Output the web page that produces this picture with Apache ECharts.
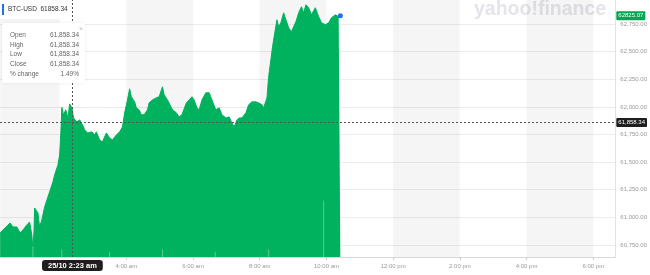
<!DOCTYPE html>
<html><head><meta charset="utf-8">
<script src="https://cdn.jsdelivr.net/npm/echarts@6/dist/echarts.min.js"></script>
<style>html,body{margin:0;padding:0;background:#fff}#c{width:650px;height:275px}</style>
</head><body><div id="c"></div>
<script>
const symbolName = 'BTC-USD';
const headerPrice = '61858.34';
const times = ['00:13','00:18','00:22','00:27','00:31','00:36','00:43','00:49','00:54','01:01','01:06','01:10','01:12','01:14','01:15','01:21','01:24','01:28','01:33','01:39','01:42','01:48','01:51','01:57','02:00','02:02','02:04','02:07','02:11','02:15','02:18','02:22','02:25','02:31','02:36','02:43','02:45','02:50','02:58','03:03','03:06','03:12','03:17','03:24','03:30','03:35','03:42','03:48','03:53','03:57','04:02','04:06','04:09','04:15','04:18','04:23','04:27','04:32','04:38','04:41','04:47','04:54','04:59','05:05','05:08','05:14','05:17','05:23','05:30','05:35','05:40','05:48','05:53','05:58','06:02','06:07','06:11','06:16','06:23','06:29','06:34','06:41','06:47','06:52','06:59','07:05','07:10','07:14','07:19','07:23','07:28','07:35','07:40','07:46','07:53','07:58','08:04','08:07','08:13','08:16','08:20','08:23','08:27','08:31','08:34','08:38','08:43','08:47','08:52','08:57','09:05','09:10','09:15','09:19','09:23','09:28','09:33','09:40','09:46','09:51','09:58','10:04','10:09','10:16','10:22','10:25'];
const prices = [60859,60886,60904,60931,60949,60913,60913,60859,60886,60931,60958,60841,60705,60886,61085,61040,60913,60976,61094,61185,61230,61321,61384,61475,61565,61746,61996,61928,61973,61900,62027,61991,61900,61864,61882,61819,61792,61764,61774,61746,61774,61701,61683,61764,61719,61701,61746,61774,61819,61946,62063,62163,62091,62045,61991,61973,61928,61928,61973,62036,62063,62082,62091,62181,62109,62063,62045,61973,61946,61909,61928,62036,62063,62091,62063,61991,61973,62063,62127,62127,62063,61973,61991,61928,61900,61909,61855,61819,61882,61900,61900,61946,62018,62045,62045,62036,62018,61991,62082,62272,62426,62543,62670,62788,62725,62761,62851,62788,62716,62679,62770,62851,62906,62851,62924,62897,62833,62897,62815,62761,62743,62761,62806,62833,62815,62825.07];
const volTimes = ['01:12','02:04','03:30','05:05','06:40','08:16','09:55'];
const volValues = [4, 3, 2, 3, 2, 3, 22];
const yTicks = [60750,61000,61250,61500,61750,62000,62250,62500,62750];
const xTickTimes = ['04:00','06:00','08:00','10:00','12:00','14:00','16:00','18:00'];
const xTickLabels = ['4:00 am','6:00 am','8:00 am','10:00 am','12:00 pm','2:00 pm','4:00 pm','6:00 pm'];
const bandStarts = ['00:13','04:00','08:00','12:00','16:00'];
const bandEnds = ['02:00','06:00','10:00','14:00','18:00'];
const crossTime = '02:23';
const crossLabel = '25/10 2:23 am';
const crossPrice = 61858.34;
const currentPrice = 62825.07;
const infoLabels = ['Open','High','Low','Close','% change'];
const infoValues = ['61,858.34','61,858.34','61,858.34','61,858.34','1.49%'];

const toMin = s => { const [h, m] = s.split(':').map(Number); return h * 60 + m; };
const fmt = v => v.toLocaleString('en-US', {minimumFractionDigits: 2, maximumFractionDigits: 2});
const xMin = 12.75, xMax = 1119.6;
const FONT = 'Liberation Sans';

const chart = echarts.init(document.getElementById('c'), null, {renderer: 'canvas'});
const lineData = times.map((t, i) => [toMin(t), prices[i]]);
const xTickVals = xTickTimes.map(toMin);
const lastPt = lineData[lineData.length - 1];

const graphics = [
  {type: 'rect', left: 0, top: 0, shape: {width: 66, height: 19}, style: {fill: '#fff'}, z: 50},
  {type: 'rect', left: 2, top: 4, shape: {width: 2, height: 11}, style: {fill: '#1a73e8'}, z: 51},
  {type: 'text', left: 8, top: 6, style: {text: symbolName + '  ' + headerPrice, fill: '#333', font: '6.5px ' + FONT}, z: 51},
  {type: 'rect', left: 2, top: 23, shape: {width: 83, height: 60}, style: {fill: '#fff', shadowBlur: 3, shadowColor: 'rgba(0,0,0,0.08)'}, z: 50},
  {type: 'text', left: 79, top: 26, style: {text: '×', fill: '#bbb', font: '7px ' + FONT}, z: 51},
  {type: 'text', left: 474, top: 0, style: {text: 'yahoo!finance', fill: '#e4e4ea', font: 'bold 19.5px ' + FONT}, z: 1}
];
infoLabels.forEach((l, i) => {
  graphics.push({type: 'text', left: 10, top: 32 + i * 9.6, style: {text: l, fill: '#666', font: '6.5px ' + FONT}, z: 51});
  graphics.push({type: 'text', right: 650 - 79, top: 32 + i * 9.6, style: {text: infoValues[i], fill: '#666', font: '6.5px ' + FONT, align: 'right'}, z: 51});
});

chart.setOption({
  animation: false,
  backgroundColor: '#fff',
  textStyle: {fontFamily: FONT},
  grid: {left: 0, right: 32, top: 0, bottom: 18, containLabel: false},
  xAxis: {
    type: 'value', min: xMin, max: xMax,
    axisLine: {show: true, lineStyle: {color: '#d8d8d8'}},
    axisTick: {show: true, customValues: xTickVals, length: 3, lineStyle: {color: '#ccc'}},
    axisLabel: {customValues: xTickVals, color: '#999', fontSize: 6, margin: 6,
      formatter: v => xTickLabels[xTickVals.indexOf(v)] || ''},
    splitLine: {show: false}
  },
  yAxis: [{
    type: 'value', position: 'right', min: 60641, max: 62967,
    axisLine: {show: true, lineStyle: {color: '#e2e2e2'}},
    axisTick: {show: false, customValues: yTicks},
    axisLabel: {customValues: yTicks, color: '#999', fontSize: 6, margin: 5, formatter: v => fmt(v)},
    splitLine: {show: true, lineStyle: {color: '#ececec', width: 1}}
  }, {
    type: 'value', min: 0, max: 100, show: false
  }],
  graphic: graphics,
  series: [
    {
      type: 'line', data: [], z: 1, silent: true,
      markArea: {silent: true, itemStyle: {color: 'rgba(0,0,0,0.04)'},
        data: bandStarts.map((s, i) => [{xAxis: Math.max(toMin(s), xMin)}, {xAxis: toMin(bandEnds[i])}])}
    },
    {
      type: 'line', data: lineData, showSymbol: false, z: 3,
      lineStyle: {color: '#00b15e', width: 1},
      areaStyle: {color: '#00b15e', opacity: 1, origin: 'start'},
      markLine: {
        symbol: ['none', 'none'], silent: true, animation: false,
        data: [
          {yAxis: crossPrice, lineStyle: {type: [2, 2], color: '#555', width: 1},
            label: {show: true, position: 'end', distance: 1, formatter: fmt(crossPrice), color: '#fff', backgroundColor: '#1e1e1e', fontSize: 6, padding: [2, 2, 1, 2], borderRadius: 1}},
          {xAxis: toMin(crossTime), lineStyle: {type: [2, 2], color: '#555', width: 1},
            label: {show: true, position: 'start', distance: 3, formatter: crossLabel, color: '#fff', backgroundColor: '#1e1e1e', fontSize: 7.5, fontWeight: 'bold', padding: [2, 6, 1, 6], borderRadius: 3}},
          {yAxis: currentPrice, lineStyle: {color: 'rgba(0,0,0,0)', width: 1, type: 'solid'},
            label: {show: true, position: 'end', distance: 1, formatter: String(currentPrice), color: '#fff', backgroundColor: '#00a651', fontSize: 6, padding: [2, 2, 1, 2], borderRadius: 1}}
        ]
      },
      markPoint: {
        silent: true, symbol: 'circle', symbolSize: 5,
        itemStyle: {color: '#1a73e8'}, label: {show: false},
        data: [{coord: lastPt}]
      }
    },
    {
      type: 'bar', yAxisIndex: 1, barWidth: 1, z: 4, silent: true,
      itemStyle: {color: 'rgba(255,255,255,0.35)'},
      data: volTimes.map((t, i) => [toMin(t), volValues[i]])
    }
  ]
});
</script></body></html>
